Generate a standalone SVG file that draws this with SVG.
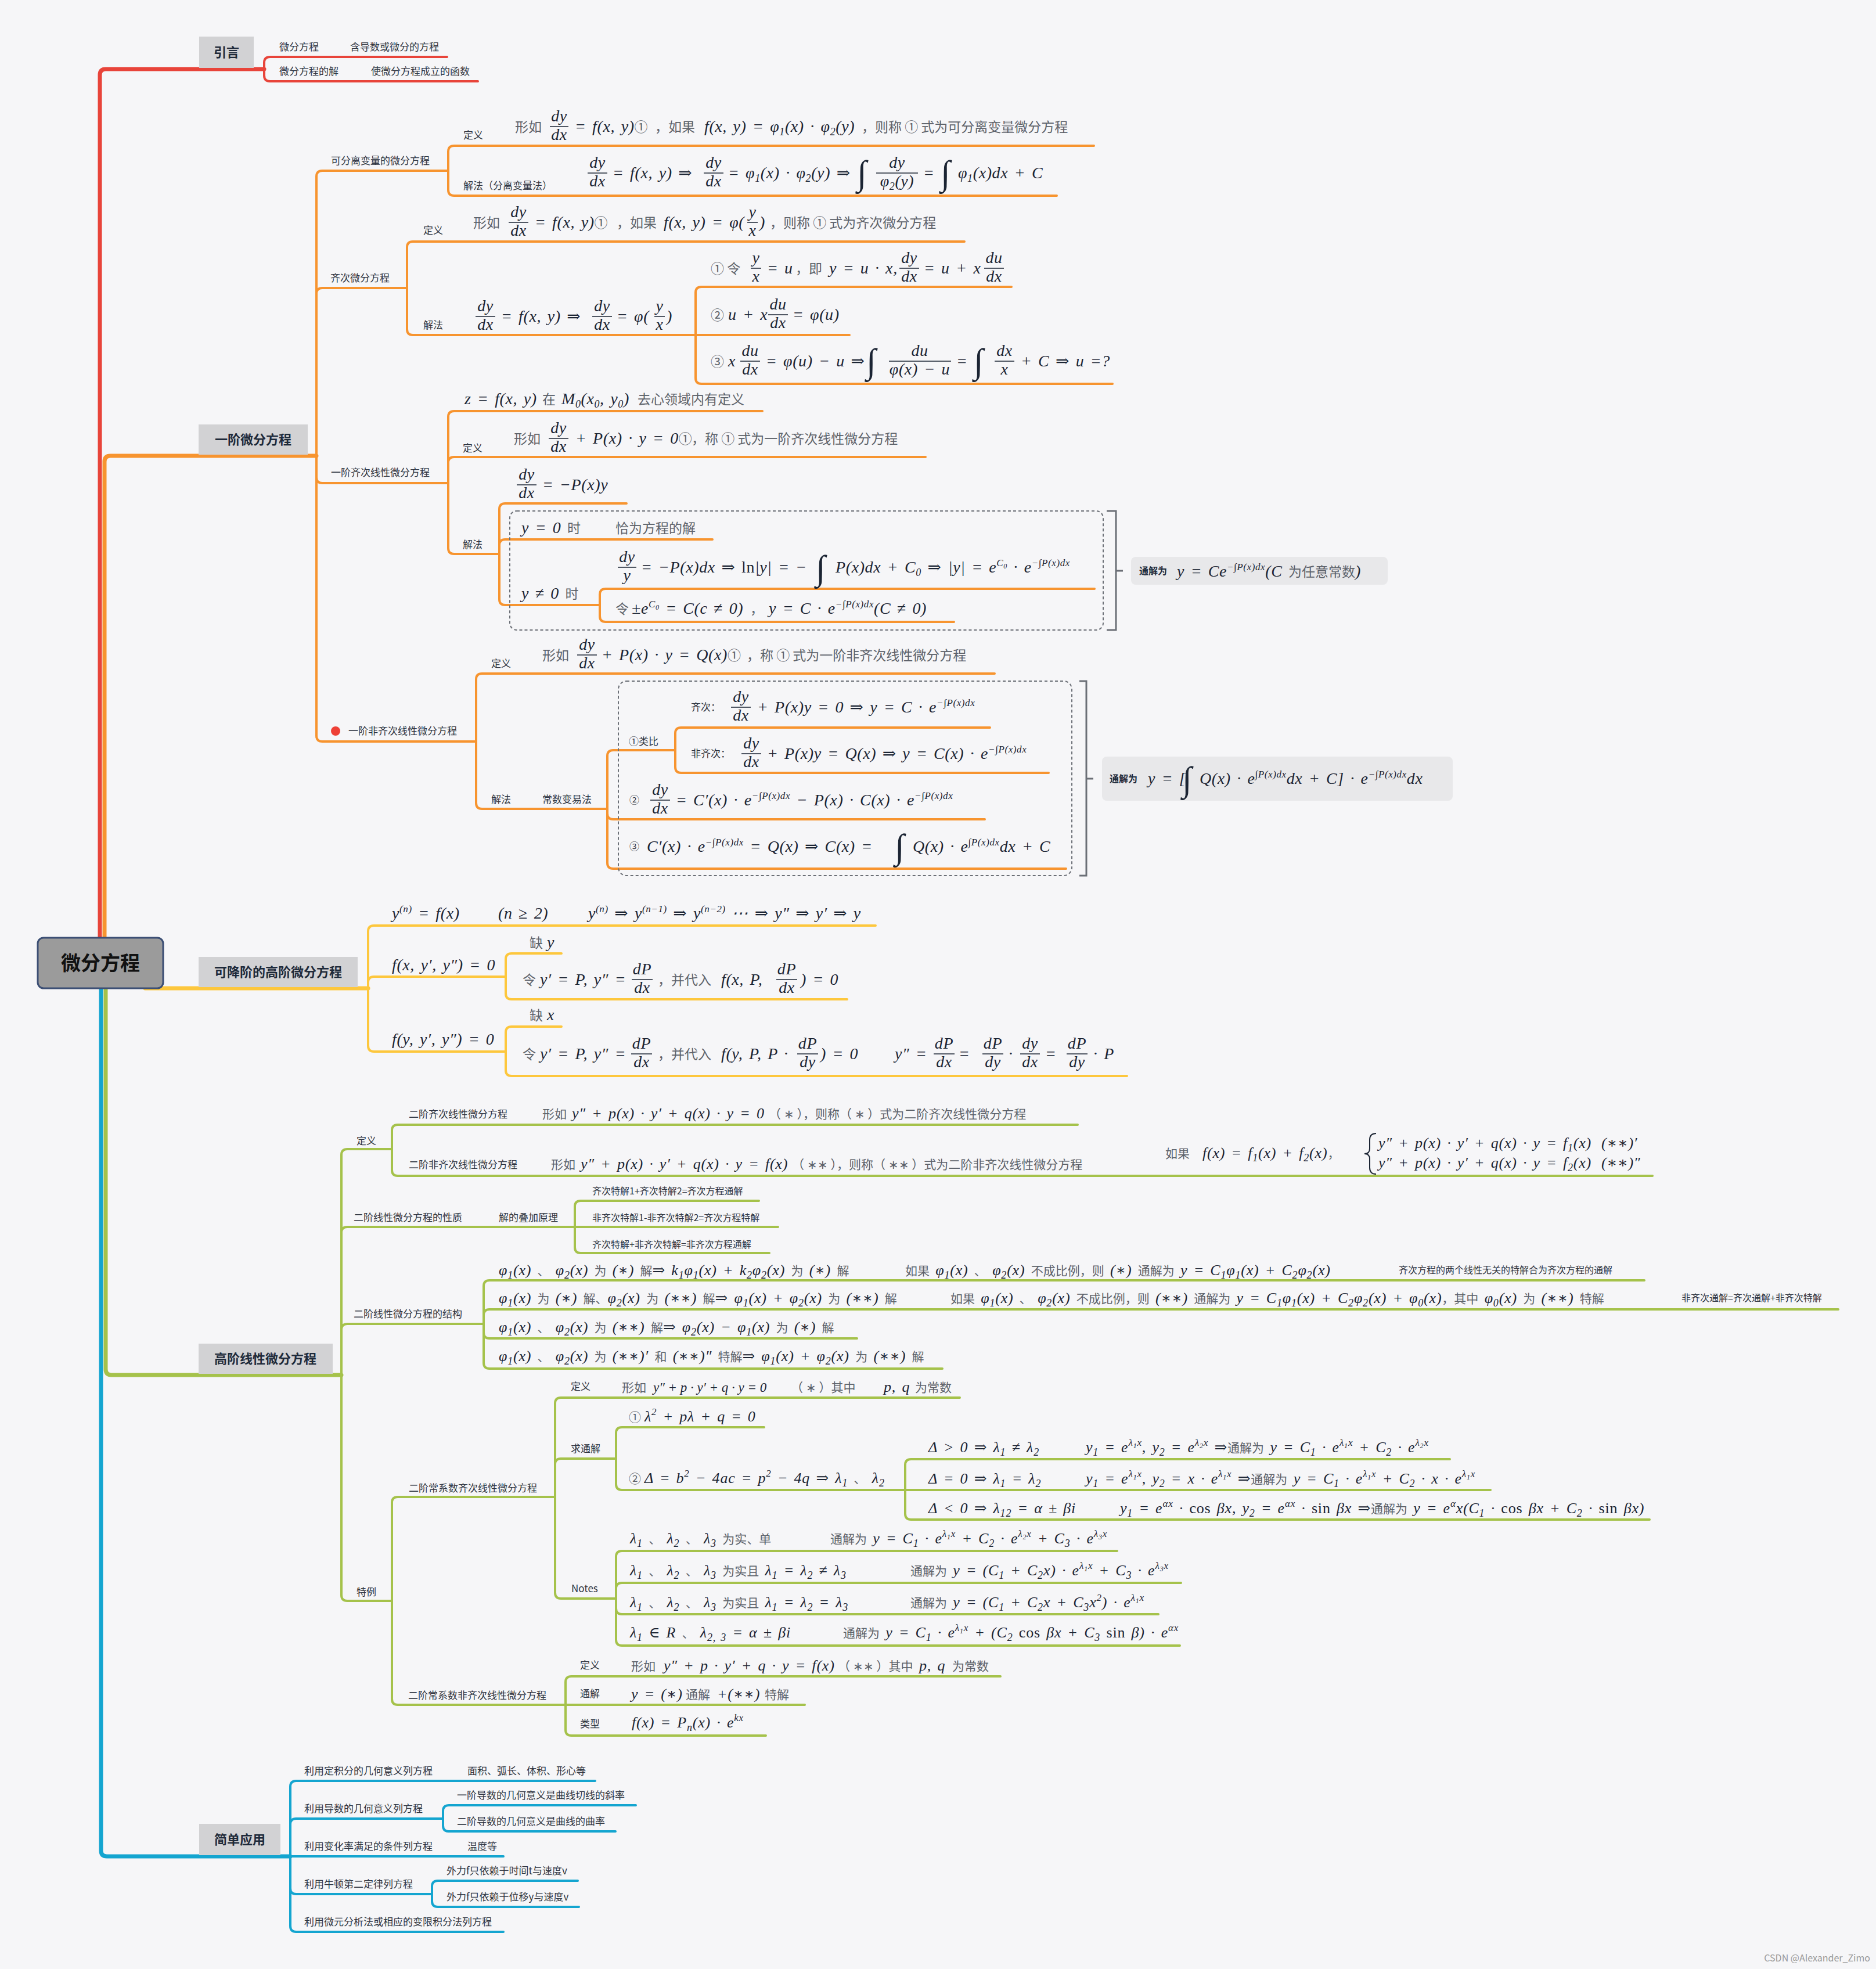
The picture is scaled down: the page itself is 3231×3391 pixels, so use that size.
<svg xmlns="http://www.w3.org/2000/svg" width="3231" height="3391" viewBox="0 0 3231 3391">
<style>
.m{font-family:"Liberation Serif","DejaVu Serif",serif;font-style:italic;font-size:28px;letter-spacing:0.6px;word-spacing:3px;fill:#1b2433}
.m2{font-family:"Liberation Serif","DejaVu Serif",serif;font-style:italic;font-size:26px;letter-spacing:0.8px;word-spacing:3px;fill:#1b2433}
.fr{text-anchor:middle}
.n{font-style:normal}
.c{font-family:"Noto Sans CJK SC","Noto Sans",sans-serif;font-style:normal;font-size:23px;letter-spacing:0;word-spacing:0;fill:#5d626a}
.c2{font-family:"Noto Sans CJK SC","Noto Sans",sans-serif;font-style:normal;font-size:21px;letter-spacing:0;word-spacing:0;fill:#5d626a}
.l{font-family:"Noto Sans CJK SC","Noto Sans",sans-serif;font-size:17px;fill:#2e3440}
.l2{font-family:"Noto Sans CJK SC","Noto Sans",sans-serif;font-size:16px;fill:#2e3440}
.s{font-size:18px;baseline-shift:-6px}
.p{font-size:17px;baseline-shift:11px}
.ps{font-size:12px;baseline-shift:-4px}
.i{font-family:"Liberation Serif","DejaVu Serif",serif;font-style:normal;font-size:60px;fill:#1b2433}
.fb{stroke:#1b2433;stroke-width:1.6;fill:none}
.k{fill:none;stroke-width:4;stroke-linecap:round;stroke-linejoin:round}
.t{fill:none;stroke-width:7;stroke-linecap:round;stroke-linejoin:round}
.rd{stroke:#e8443a}.or{stroke:#f7942f}.ye{stroke:#fdc73d}.gr{stroke:#a5c24b}.bl{stroke:#14a5d0}
.mt{fill:#d2d2d4}
.mtt{font-family:"Noto Sans CJK SC",sans-serif;font-weight:700;font-size:22px;fill:#1e2a3a;text-anchor:middle}
.sum{fill:#e8e8ea}
.sb{font-family:"Noto Sans CJK SC",sans-serif;font-weight:700;font-size:16px;fill:#1e2a3a}
.dash{fill:none;stroke:#6b6f76;stroke-width:2;stroke-dasharray:5 4}
.brk{fill:none;stroke:#6b6f76;stroke-width:3}
</style>
<rect width="3231" height="3391" fill="#f6f6f8"/>

<g id="connectors">
<path class="t rd" d="M172,1615 V129 Q172,119 182,119 H455"/>
<path class="k rd" d="M455,119 V108 Q455,98 465,98 H770 M455,119 V130 Q455,140 465,140 H823"/>
<path class="t or" d="M180,1615 V795 Q180,785 190,785 H545"/>
<path class="k or" d="M545,785 V304 Q545,294 555,294 H772 M545,785 V506 Q545,496 555,496 H701 M545,785 V822 Q545,832 555,832 H772 M545,785 V1267 Q545,1277 555,1277 H820
M772,294 V261 Q772,251 782,251 H1884 M772,294 V327 Q772,337 782,337 H1820
M701,496 V426 Q701,416 711,416 H1661 M701,496 V567 Q701,577 711,577 H1198
M1198,577 V504 Q1198,494 1208,494 H1742 M1198,577 H1463 M1198,577 V651 Q1198,661 1208,661 H1916
M772,832 V718 Q772,708 782,708 H1313 M772,832 V797 Q772,787 782,787 H1594 M772,832 V944 Q772,954 782,954 H860
M860,954 V877 Q860,867 870,867 H1079 M860,954 V939 Q860,929 870,929 H1227 M860,954 V1032 Q860,1042 870,1042 H1033
M1033,1042 V1024 Q1033,1014 1043,1014 H1885 M1033,1042 V1061 Q1033,1071 1043,1071 H1643
M820,1277 V1170 Q820,1160 830,1160 H1713 M820,1277 V1383 Q820,1393 830,1393 H1046
M1046,1393 V1302 Q1046,1292 1056,1292 H1163 M1046,1393 V1401 Q1046,1411 1056,1411 H1696 M1046,1393 V1486 Q1046,1496 1056,1496 H1836
M1163,1292 V1263 Q1163,1253 1173,1253 H1705 M1163,1292 V1321 Q1163,1331 1173,1331 H1806"/>
<path class="t ye" d="M250,1702 H634"/>
<path class="k ye" d="M634,1702 V1604 Q634,1594 644,1594 H1508 M634,1702 V1692 Q634,1682 644,1682 H871 M634,1702 V1801 Q634,1811 644,1811 H871
M871,1682 V1652 Q871,1642 881,1642 H967 M871,1682 V1711 Q871,1721 881,1721 H1459
M871,1811 V1778 Q871,1768 881,1768 H967 M871,1811 V1843 Q871,1853 881,1853 H1941"/>
<path class="t gr" d="M182,1702 V2358 Q182,2368 192,2368 H588"/>
<path class="k gr" d="M588,2368 V1989 Q588,1979 598,1979 H675 M588,2368 V2123 Q588,2113 598,2113 H990 M588,2368 V2290 Q588,2280 598,2280 H833 M588,2368 V2747 Q588,2757 598,2757 H675
M675,1979 V1947 Q675,1937 685,1937 H1856 M675,1979 V2015 Q675,2025 685,2025 H2846
M990,2113 V2078 Q990,2068 1000,2068 H1307 M990,2113 H1340 M990,2113 V2148 Q990,2158 1000,2158 H1325
M833,2280 V2215 Q833,2205 843,2205 H2832 M833,2280 V2265 Q833,2255 843,2255 H3166 M833,2280 V2295 Q833,2305 843,2305 H1476 M833,2280 V2347 Q833,2357 843,2357 H1623
M675,2757 V2588 Q675,2578 685,2578 H956 M675,2757 V2926 Q675,2936 685,2936 H974
M956,2578 V2417 Q956,2407 966,2407 H1653 M956,2578 V2522 Q956,2512 966,2512 H1061 M956,2578 V2743 Q956,2753 966,2753 H1061
M1061,2512 V2468 Q1061,2458 1071,2458 H1316 M1061,2512 V2556 Q1061,2566 1071,2566 H1559
M1559,2566 V2523 Q1559,2513 1569,2513 H2497 M1559,2566 H2567 M1559,2566 V2607 Q1559,2617 1569,2617 H2841
M1061,2753 V2681 Q1061,2671 1071,2671 H1924 M1061,2753 V2736 Q1061,2726 1071,2726 H2034 M1061,2753 V2770 Q1061,2780 1071,2780 H1995 M1061,2753 V2824 Q1061,2834 1071,2834 H2032
M974,2936 V2897 Q974,2887 984,2887 H1723 M974,2936 H1386 M974,2936 V2979 Q974,2989 984,2989 H1319"/>
<path class="t bl" d="M174,1702 V3187 Q174,3197 184,3197 H500"/>
<path class="k bl" d="M500,3197 V3077 Q500,3067 510,3067 H1025 M500,3197 V3142 Q500,3132 510,3132 H763 M500,3197 H867 M500,3197 V3252 Q500,3262 510,3262 H744 M500,3197 V3317 Q500,3327 510,3327 H867
M763,3132 V3119 Q763,3109 773,3109 H1095 M763,3132 V3144 Q763,3154 773,3154 H1060
M744,3262 V3249 Q744,3239 754,3239 H995 M744,3262 V3274 Q744,3284 754,3284 H997"/>
<path class="brk" d="M1906,880 H1922 V1085 H1906 M1922,983 H1934"/>
<path class="brk" d="M1859,1173 H1871 V1508 H1859 M1871,1341 H1883"/>
</g>

<g id="root">
<rect x="65" y="1615" width="216" height="87" rx="10" fill="#9b9b9b" stroke="#3c4f75" stroke-width="3"/>
<text x="173" y="1671" font-family="Noto Sans CJK SC,sans-serif" font-weight="700" font-size="34" fill="#111" text-anchor="middle">微分方程</text>
</g>

<g id="intro">
<rect class="mt" x="343" y="63" width="94" height="54"/>
<text class="mtt" x="390" y="98">引言</text>
<text class="l" x="481" y="87">微分方程</text><text class="l" x="603" y="87">含导数或微分的方程</text>
<text class="l" x="481" y="129">微分方程的解</text><text class="l" x="639" y="129">使微分方程成立的函数</text>
</g>

<g id="first-order">
<rect class="mt" x="342" y="731" width="188" height="52"/>
<text class="mtt" x="436" y="765">一阶微分方程</text>
<path class="fb" d="M947,218H979 M1012,298H1046 M1212,298H1246 M1509,298H1581 M876,383H910 M1287,383H1305 M819,545H853 M1020,545H1054 M1127,545H1145 M1293,462H1311 M1549,462H1583 M1695,462H1729 M1323,542H1357 M1275,622H1309 M1531,622H1638 M1713,622H1747 M945,755H979 M890,835H924 M1064,977H1096 M994,1128H1028 M1259,1218H1293 M1277,1298H1311 M1120,1378H1154"/>

<text class="l" x="570" y="283">可分离变量的微分方程</text>
<text class="l" x="798" y="239">定义</text>
<text class="m" y="227"><tspan class="c" x="887">形如</tspan></text>
<text class="m fr"><tspan x="963" y="209">dy</tspan><tspan x="963" y="241">dx</tspan></text>
<text class="m" y="227"><tspan x="990">= f(x, y)</tspan><tspan class="c">①</tspan><tspan class="c" x="1128">，如果</tspan><tspan x="1213">f(x, y) = φ<tspan class="s">1</tspan>(x) · φ<tspan class="s">2</tspan>(y)</tspan><tspan class="c" x="1484">，则称 ① 式为可分离变量微分方程</tspan></text>
<text class="l" x="798" y="326">解法（分离变量法）</text>
<text class="m fr"><tspan x="1029" y="289">dy</tspan><tspan x="1029" y="321">dx</tspan></text>
<text class="m" x="1055" y="307">= f(x, y) ⇒</text>
<text class="m fr"><tspan x="1229" y="289">dy</tspan><tspan x="1229" y="321">dx</tspan></text>
<text class="m" x="1254" y="307">= φ<tspan class="s">1</tspan>(x) · φ<tspan class="s">2</tspan>(y) ⇒</text>
<text class="i" x="1476" y="318">∫</text>
<text class="m fr"><tspan x="1545" y="289">dy</tspan><tspan x="1545" y="321">φ<tspan class="s">2</tspan>(y)</tspan></text>
<text class="m" x="1590" y="307">=</text>
<text class="i" x="1620" y="318">∫</text>
<text class="m" x="1650" y="307">φ<tspan class="s">1</tspan>(x)dx + C</text>

<text class="l" x="569" y="485">齐次微分方程</text>
<text class="l" x="729" y="403">定义</text>
<text class="m" y="392"><tspan class="c" x="815">形如</tspan></text>
<text class="m fr"><tspan x="893" y="374">dy</tspan><tspan x="893" y="406">dx</tspan></text>
<text class="m" y="392"><tspan x="921">= f(x, y)</tspan><tspan class="c">①</tspan><tspan class="c" x="1062">，如果</tspan><tspan x="1143">f(x, y) = φ(</tspan></text>
<text class="m fr"><tspan x="1296" y="374">y</tspan><tspan x="1296" y="406">x</tspan></text>
<text class="m" y="392"><tspan x="1308">)</tspan><tspan class="c" x="1326">，则称 ① 式为齐次微分方程</tspan></text>
<text class="l" x="729" y="566">解法</text>
<text class="m fr"><tspan x="836" y="536">dy</tspan><tspan x="836" y="568">dx</tspan></text>
<text class="m" x="863" y="554">= f(x, y) ⇒</text>
<text class="m fr"><tspan x="1037" y="536">dy</tspan><tspan x="1037" y="568">dx</tspan></text>
<text class="m" x="1062" y="554">= φ(</text>
<text class="m fr"><tspan x="1136" y="536">y</tspan><tspan x="1136" y="568">x</tspan></text>
<text class="m" x="1148" y="554">)</text>

<text class="m" y="471"><tspan class="c" x="1224">① 令</tspan></text>
<text class="m fr"><tspan x="1302" y="453">y</tspan><tspan x="1302" y="485">x</tspan></text>
<text class="m" y="471"><tspan x="1321">= u</tspan><tspan class="c" x="1370">，即</tspan><tspan x="1428">y = u · x,</tspan></text>
<text class="m fr"><tspan x="1566" y="453">dy</tspan><tspan x="1566" y="485">dx</tspan></text>
<text class="m" x="1591" y="471">= u + x</text>
<text class="m fr"><tspan x="1712" y="453">du</tspan><tspan x="1712" y="485">dx</tspan></text>

<text class="m" y="551"><tspan class="c" x="1224">②</tspan><tspan x="1254">u + x</tspan></text>
<text class="m fr"><tspan x="1340" y="533">du</tspan><tspan x="1340" y="565">dx</tspan></text>
<text class="m" x="1365" y="551">= φ(u)</text>

<text class="m" y="631"><tspan class="c" x="1224">③</tspan><tspan x="1254">x</tspan></text>
<text class="m fr"><tspan x="1292" y="613">du</tspan><tspan x="1292" y="645">dx</tspan></text>
<text class="m" x="1319" y="631">= φ(u) − u ⇒</text>
<text class="i" x="1492" y="642">∫</text>
<text class="m fr"><tspan x="1584" y="613">du</tspan><tspan x="1584" y="645">φ(x) − u</tspan></text>
<text class="m" x="1647" y="631">=</text>
<text class="i" x="1677" y="642">∫</text>
<text class="m fr"><tspan x="1730" y="613">dx</tspan><tspan x="1730" y="645">x</tspan></text>
<text class="m" x="1758" y="631">+ C ⇒ u =?</text>

<text class="l" x="570" y="820">一阶齐次线性微分方程</text>
<text class="m" y="696"><tspan x="800">z = f(x, y)</tspan><tspan class="c" x="934">在</tspan><tspan x="967">M<tspan class="s">0</tspan>(x<tspan class="s">0</tspan>, y<tspan class="s">0</tspan>)</tspan><tspan class="c" x="1098">去心领域内有定义</tspan></text>
<text class="l" x="797" y="778">定义</text>
<text class="m" y="764"><tspan class="c" x="885">形如</tspan></text>
<text class="m fr"><tspan x="962" y="746">dy</tspan><tspan x="962" y="778">dx</tspan></text>
<text class="m" y="764"><tspan x="991">+ P(x) · y = 0</tspan><tspan class="c">①</tspan><tspan class="c" x="1191">，称 ① 式为一阶齐次线性微分方程</tspan></text>
<text class="l" x="797" y="944">解法</text>
<text class="m fr"><tspan x="907" y="826">dy</tspan><tspan x="907" y="858">dx</tspan></text>
<text class="m" x="934" y="844">= −P(x)y</text>
<rect class="dash" x="878" y="880" width="1022" height="205" rx="12"/>
<text class="m" x="898" y="918">y = 0 <tspan class="c">时</tspan></text>
<text class="c" x="1060" y="918">恰为方程的解</text>
<text class="m" x="898" y="1031">y ≠ 0 <tspan class="c">时</tspan></text>
<text class="m fr"><tspan x="1080" y="968">dy</tspan><tspan x="1080" y="1000">y</tspan></text>
<text class="m" y="986"><tspan x="1104">= −P(x)dx ⇒ <tspan class="n">ln</tspan>|y| = −</tspan></text>
<text class="i" x="1405" y="998">∫</text>
<text class="m" y="986"><tspan x="1439">P(x)dx + C<tspan class="s">0</tspan> ⇒</tspan><tspan x="1633">|y| = e<tspan class="p">C<tspan class="ps">0</tspan></tspan> · e<tspan class="p">−∫P(x)dx</tspan></tspan></text>
<text class="m" y="1057"><tspan class="c" x="1060">令</tspan><tspan x="1088">±e<tspan class="p">C<tspan class="ps">0</tspan></tspan> = C(c ≠ 0)</tspan><tspan class="c" x="1292">，</tspan><tspan x="1324">y = C · e<tspan class="p">−∫P(x)dx</tspan>(C ≠ 0)</tspan></text>
<rect class="sum" x="1948" y="959" width="442" height="48" rx="8"/>
<text class="sb" x="1962" y="989">通解为</text>
<text class="m" x="2027" y="993">y = Ce<tspan class="p">−∫P(x)dx</tspan>(C <tspan class="c">为任意常数</tspan>)</text>

<circle cx="578" cy="1259" r="8" fill="#ee4036"/>
<text class="l" x="600" y="1265">一阶非齐次线性微分方程</text>
<text class="l" x="846" y="1149">定义</text>
<text class="m" y="1137"><tspan class="c" x="934">形如</tspan></text>
<text class="m fr"><tspan x="1011" y="1119">dy</tspan><tspan x="1011" y="1151">dx</tspan></text>
<text class="m" y="1137"><tspan x="1036">+ P(x) · y = Q(x)</tspan><tspan class="c">①</tspan><tspan class="c" x="1286">，称 ① 式为一阶非齐次线性微分方程</tspan></text>
<text class="l" x="846" y="1383">解法</text><text class="l" x="934" y="1383">常数变易法</text>
<rect class="dash" x="1065" y="1173" width="781" height="335" rx="14"/>
<text class="l" x="1083" y="1283">①类比</text>
<text class="l" x="1190" y="1224">齐次：</text>
<text class="m fr"><tspan x="1276" y="1209">dy</tspan><tspan x="1276" y="1241">dx</tspan></text>
<text class="m" x="1304" y="1227">+ P(x)y = 0 ⇒ y = C · e<tspan class="p">−∫P(x)dx</tspan></text>
<text class="l" x="1190" y="1304">非齐次：</text>
<text class="m fr"><tspan x="1294" y="1289">dy</tspan><tspan x="1294" y="1321">dx</tspan></text>
<text class="m" x="1321" y="1307">+ P(x)y = Q(x) ⇒ y = C(x) · e<tspan class="p">−∫P(x)dx</tspan></text>
<text class="l" x="1084" y="1384">②</text>
<text class="m fr"><tspan x="1137" y="1369">dy</tspan><tspan x="1137" y="1401">dx</tspan></text>
<text class="m" x="1164" y="1387">= C′(x) · e<tspan class="p">−∫P(x)dx</tspan> − P(x) · C(x) · e<tspan class="p">−∫P(x)dx</tspan></text>
<text class="l" x="1084" y="1464">③</text>
<text class="m" x="1114" y="1467">C′(x) · e<tspan class="p">−∫P(x)dx</tspan> = Q(x) ⇒ C(x) =</text>
<text class="i" x="1541" y="1478">∫</text>
<text class="m" x="1572" y="1467">Q(x) · e<tspan class="p">∫P(x)dx</tspan>dx + C</text>
<rect class="sum" x="1898" y="1303" width="604" height="76" rx="8"/>
<text class="sb" x="1911" y="1347">通解为</text>
<text class="m" x="1977" y="1350">y = [</text>
<text class="i" x="2036" y="1362">∫</text>
<text class="m" x="2066" y="1350">Q(x) · e<tspan class="p">∫P(x)dx</tspan>dx + C] · e<tspan class="p">−∫P(x)dx</tspan>dx</text>
</g>

<g id="reducible">
<rect class="mt" x="342" y="1648" width="274" height="52"/>
<text class="mtt" x="479" y="1682">可降阶的高阶微分方程</text>
<path class="fb" d="M1088,1687H1124 M1337,1687H1373 M1087,1815H1123 M1373,1815H1409 M1608,1815H1644 M1692,1815H1728 M1757,1815H1791 M1837,1815H1873"/>
<text class="m" y="1582"><tspan x="675">y<tspan class="p">(n)</tspan> = f(x)</tspan><tspan x="858">(n ≥ 2)</tspan><tspan x="1013">y<tspan class="p">(n)</tspan> ⇒ y<tspan class="p">(n−1)</tspan> ⇒ y<tspan class="p">(n−2)</tspan> ⋯ ⇒ y″ ⇒ y′ ⇒ y</tspan></text>
<text class="m" x="675" y="1671">f(x, y′, y″) = 0</text>
<text class="m" y="1632"><tspan class="c" x="912">缺</tspan><tspan x="942">y</tspan></text>
<text class="m" y="1696"><tspan class="c" x="900">令</tspan><tspan x="930">y′ = P, y″ =</tspan></text>
<text class="m fr"><tspan x="1106" y="1678">dP</tspan><tspan x="1106" y="1710">dx</tspan></text>
<text class="m" y="1696"><tspan class="c" x="1133">，并代入</tspan><tspan x="1242">f(x, P,</tspan></text>
<text class="m fr"><tspan x="1355" y="1678">dP</tspan><tspan x="1355" y="1710">dx</tspan></text>
<text class="m" x="1379" y="1696">) = 0</text>
<text class="m" x="675" y="1799">f(y, y′, y″) = 0</text>
<text class="m" y="1757"><tspan class="c" x="912">缺</tspan><tspan x="942">x</tspan></text>
<text class="m" y="1824"><tspan class="c" x="900">令</tspan><tspan x="930">y′ = P, y″ =</tspan></text>
<text class="m fr"><tspan x="1105" y="1806">dP</tspan><tspan x="1105" y="1838">dx</tspan></text>
<text class="m" y="1824"><tspan class="c" x="1133">，并代入</tspan><tspan x="1242">f(y, P, P ·</tspan></text>
<text class="m fr"><tspan x="1391" y="1806">dP</tspan><tspan x="1391" y="1838">dy</tspan></text>
<text class="m" y="1824"><tspan x="1413">) = 0</tspan><tspan x="1541">y″ =</tspan><tspan x="1651">=</tspan><tspan x="1737">·</tspan><tspan x="1800">=</tspan><tspan x="1883">· P</tspan></text>
<text class="m fr"><tspan x="1626" y="1806">dP</tspan><tspan x="1626" y="1838">dx</tspan></text>
<text class="m fr"><tspan x="1710" y="1806">dP</tspan><tspan x="1710" y="1838">dy</tspan></text>
<text class="m fr"><tspan x="1774" y="1806">dy</tspan><tspan x="1774" y="1838">dx</tspan></text>
<text class="m fr"><tspan x="1855" y="1806">dP</tspan><tspan x="1855" y="1838">dy</tspan></text>
</g>

<g id="higher-linear">
<rect class="mt" x="342" y="2314" width="231" height="52"/>
<text class="mtt" x="457" y="2348">高阶线性微分方程</text>
<text class="l" x="614" y="1971">定义</text>
<text class="l" x="704" y="1925">二阶齐次线性微分方程</text>
<text class="m2" y="1926"><tspan class="c2" x="934">形如</tspan><tspan x="985">y″ + p(x) · y′ + q(x) · y = 0</tspan><tspan class="c2" x="1324">（ ∗ ），则称（ ∗ ）式为二阶齐次线性微分方程</tspan></text>
<text class="l" x="704" y="2012">二阶非齐次线性微分方程</text>
<text class="m2" y="2013"><tspan class="c2" x="949">形如</tspan><tspan x="1000">y″ + p(x) · y′ + q(x) · y = f(x)</tspan><tspan class="c2" x="1364">（ ∗∗ ），则称（ ∗∗ ）式为二阶非齐次线性微分方程</tspan></text>
<text class="m2" y="1994"><tspan class="c2" x="2007">如果</tspan><tspan x="2071">f(x) = f<tspan class="s">1</tspan>(x) + f<tspan class="s">2</tspan>(x)</tspan><tspan class="c2">，</tspan></text>
<path d="M2370,1952 Q2359,1952 2359,1963 V1978 Q2359,1987 2350,1987 Q2359,1987 2359,1996 V2011 Q2359,2022 2370,2022" fill="none" stroke="#1b2433" stroke-width="2"/>
<text class="m2" y="1977"><tspan x="2374">y″ + p(x) · y′ + q(x) · y = f<tspan class="s">1</tspan>(x)</tspan><tspan x="2758">(∗∗)′</tspan></text>
<text class="m2" y="2011"><tspan x="2374">y″ + p(x) · y′ + q(x) · y = f<tspan class="s">2</tspan>(x)</tspan><tspan x="2758">(∗∗)″</tspan></text>

<text class="l" x="609" y="2103">二阶线性微分方程的性质</text>
<text class="l" x="859" y="2103">解的叠加原理</text>
<text class="l2" x="1020" y="2057">齐次特解1+齐次特解2=齐次方程通解</text>
<text class="l2" x="1020" y="2103">非齐次特解1-非齐次特解2=齐次方程特解</text>
<text class="l2" x="1020" y="2149">齐次特解+非齐次特解=非齐次方程通解</text>

<text class="l" x="609" y="2269">二阶线性微分方程的结构</text>
<text class="m2" y="2196"><tspan x="859">φ<tspan class="s">1</tspan>(x) <tspan class="c2">、</tspan> φ<tspan class="s">2</tspan>(x) <tspan class="c2">为</tspan> (∗) <tspan class="c2">解</tspan>⇒ k<tspan class="s">1</tspan>φ<tspan class="s">1</tspan>(x) + k<tspan class="s">2</tspan>φ<tspan class="s">2</tspan>(x) <tspan class="c2">为</tspan> (∗) <tspan class="c2">解</tspan></tspan><tspan x="1559"><tspan class="c2">如果</tspan> φ<tspan class="s">1</tspan>(x) <tspan class="c2">、</tspan> φ<tspan class="s">2</tspan>(x) <tspan class="c2">不成比例，则</tspan> (∗) <tspan class="c2">通解为</tspan> y = C<tspan class="s">1</tspan>φ<tspan class="s">1</tspan>(x) + C<tspan class="s">2</tspan>φ<tspan class="s">2</tspan>(x)</tspan></text>
<text class="l2" x="2409" y="2193">齐次方程的两个线性无关的特解合为齐次方程的通解</text>
<text class="m2" y="2244"><tspan x="859">φ<tspan class="s">1</tspan>(x) <tspan class="c2">为</tspan> (∗) <tspan class="c2">解、</tspan>φ<tspan class="s">2</tspan>(x) <tspan class="c2">为</tspan> (∗∗) <tspan class="c2">解</tspan>⇒ φ<tspan class="s">1</tspan>(x) + φ<tspan class="s">2</tspan>(x) <tspan class="c2">为</tspan> (∗∗) <tspan class="c2">解</tspan></tspan><tspan x="1637"><tspan class="c2">如果</tspan> φ<tspan class="s">1</tspan>(x) <tspan class="c2">、</tspan> φ<tspan class="s">2</tspan>(x) <tspan class="c2">不成比例，则</tspan> (∗∗) <tspan class="c2">通解为</tspan> y = C<tspan class="s">1</tspan>φ<tspan class="s">1</tspan>(x) + C<tspan class="s">2</tspan>φ<tspan class="s">2</tspan>(x) + φ<tspan class="s">0</tspan>(x)<tspan class="c2">，其中</tspan> φ<tspan class="s">0</tspan>(x) <tspan class="c2">为</tspan> (∗∗) <tspan class="c2">特解</tspan></tspan></text>
<text class="l2" x="2896" y="2241">非齐次通解=齐次通解+非齐次特解</text>
<text class="m2" x="859" y="2294">φ<tspan class="s">1</tspan>(x) <tspan class="c2">、</tspan> φ<tspan class="s">2</tspan>(x) <tspan class="c2">为</tspan> (∗∗) <tspan class="c2">解</tspan>⇒ φ<tspan class="s">2</tspan>(x) − φ<tspan class="s">1</tspan>(x) <tspan class="c2">为</tspan> (∗) <tspan class="c2">解</tspan></text>
<text class="m2" x="859" y="2344">φ<tspan class="s">1</tspan>(x) <tspan class="c2">、</tspan> φ<tspan class="s">2</tspan>(x) <tspan class="c2">为</tspan> (∗∗)′ <tspan class="c2">和</tspan> (∗∗)″ <tspan class="c2">特解</tspan>⇒ φ<tspan class="s">1</tspan>(x) + φ<tspan class="s">2</tspan>(x) <tspan class="c2">为</tspan> (∗∗) <tspan class="c2">解</tspan></text>

<text class="l" x="614" y="2748">特例</text>
<text class="l" x="704" y="2569">二阶常系数齐次线性微分方程</text>
<text class="l" x="983" y="2394">定义</text>
<text class="c2" x="1071" y="2397">形如</text>
<text class="m2" x="1125" y="2397" style="font-size:23px;letter-spacing:0;word-spacing:0">y″ + p · y′ + q · y = 0</text>
<text class="m2" y="2397"><tspan class="c2" x="1362">（ ∗ ）其中</tspan><tspan x="1522">p, q</tspan><tspan class="c2" x="1576">为常数</tspan></text>
<text class="l" x="983" y="2501">求通解</text>
<text class="m2" y="2448"><tspan class="c2" x="1083">①</tspan><tspan x="1110">λ<tspan class="p">2</tspan> + pλ + q = 0</tspan></text>
<text class="m2" y="2554"><tspan class="c2" x="1083">②</tspan><tspan x="1110">Δ = b<tspan class="p">2</tspan> − 4ac = p<tspan class="p">2</tspan> − 4q ⇒ λ<tspan class="s">1</tspan> <tspan class="c2">、</tspan> λ<tspan class="s">2</tspan></tspan></text>
<text class="m2" y="2501"><tspan x="1599">Δ &gt; 0 ⇒ λ<tspan class="s">1</tspan> ≠ λ<tspan class="s">2</tspan></tspan><tspan x="1870">y<tspan class="s">1</tspan> = e<tspan class="p">λ<tspan class="ps">1</tspan>x</tspan>, y<tspan class="s">2</tspan> = e<tspan class="p">λ<tspan class="ps">2</tspan>x</tspan> ⇒<tspan class="c2">通解为</tspan> y = C<tspan class="s">1</tspan> · e<tspan class="p">λ<tspan class="ps">1</tspan>x</tspan> + C<tspan class="s">2</tspan> · e<tspan class="p">λ<tspan class="ps">2</tspan>x</tspan></tspan></text>
<text class="m2" y="2555"><tspan x="1599">Δ = 0 ⇒ λ<tspan class="s">1</tspan> = λ<tspan class="s">2</tspan></tspan><tspan x="1870">y<tspan class="s">1</tspan> = e<tspan class="p">λ<tspan class="ps">1</tspan>x</tspan>, y<tspan class="s">2</tspan> = x · e<tspan class="p">λ<tspan class="ps">1</tspan>x</tspan> ⇒<tspan class="c2">通解为</tspan> y = C<tspan class="s">1</tspan> · e<tspan class="p">λ<tspan class="ps">1</tspan>x</tspan> + C<tspan class="s">2</tspan> · x · e<tspan class="p">λ<tspan class="ps">1</tspan>x</tspan></tspan></text>
<text class="m2" y="2606"><tspan x="1599">Δ &lt; 0 ⇒ λ<tspan class="s">12</tspan> = α ± βi</tspan><tspan x="1929">y<tspan class="s">1</tspan> = e<tspan class="p">αx</tspan> · <tspan class="n">cos</tspan> βx, y<tspan class="s">2</tspan> = e<tspan class="p">αx</tspan> · <tspan class="n">sin</tspan> βx ⇒<tspan class="c2">通解为</tspan> y = e<tspan class="p">α</tspan>x(C<tspan class="s">1</tspan> · <tspan class="n">cos</tspan> βx + C<tspan class="s">2</tspan> · <tspan class="n">sin</tspan> βx)</tspan></text>
<text class="l" x="984" y="2742">Notes</text>
<text class="m2" y="2658"><tspan x="1085">λ<tspan class="s">1</tspan> <tspan class="c2">、</tspan> λ<tspan class="s">2</tspan> <tspan class="c2">、</tspan> λ<tspan class="s">3</tspan> <tspan class="c2">为实、单</tspan></tspan><tspan x="1430"><tspan class="c2">通解为</tspan> y = C<tspan class="s">1</tspan> · e<tspan class="p">λ<tspan class="ps">1</tspan>x</tspan> + C<tspan class="s">2</tspan> · e<tspan class="p">λ<tspan class="ps">2</tspan>x</tspan> + C<tspan class="s">3</tspan> · e<tspan class="p">λ<tspan class="ps">3</tspan>x</tspan></tspan></text>
<text class="m2" y="2713"><tspan x="1085">λ<tspan class="s">1</tspan> <tspan class="c2">、</tspan> λ<tspan class="s">2</tspan> <tspan class="c2">、</tspan> λ<tspan class="s">3</tspan> <tspan class="c2">为实且</tspan> λ<tspan class="s">1</tspan> = λ<tspan class="s">2</tspan> ≠ λ<tspan class="s">3</tspan></tspan><tspan x="1568"><tspan class="c2">通解为</tspan> y = (C<tspan class="s">1</tspan> + C<tspan class="s">2</tspan>x) · e<tspan class="p">λ<tspan class="ps">1</tspan>x</tspan> + C<tspan class="s">3</tspan> · e<tspan class="p">λ<tspan class="ps">3</tspan>x</tspan></tspan></text>
<text class="m2" y="2768"><tspan x="1085">λ<tspan class="s">1</tspan> <tspan class="c2">、</tspan> λ<tspan class="s">2</tspan> <tspan class="c2">、</tspan> λ<tspan class="s">3</tspan> <tspan class="c2">为实且</tspan> λ<tspan class="s">1</tspan> = λ<tspan class="s">2</tspan> = λ<tspan class="s">3</tspan></tspan><tspan x="1568"><tspan class="c2">通解为</tspan> y = (C<tspan class="s">1</tspan> + C<tspan class="s">2</tspan>x + C<tspan class="s">3</tspan>x<tspan class="p">2</tspan>) · e<tspan class="p">λ<tspan class="ps">1</tspan>x</tspan></tspan></text>
<text class="m2" y="2820"><tspan x="1085">λ<tspan class="s">1</tspan> ∈ R <tspan class="c2">、</tspan> λ<tspan class="s">2, 3</tspan> = α ± βi</tspan><tspan x="1452"><tspan class="c2">通解为</tspan> y = C<tspan class="s">1</tspan> · e<tspan class="p">λ<tspan class="ps">1</tspan>x</tspan> + (C<tspan class="s">2</tspan> <tspan class="n">cos</tspan> βx + C<tspan class="s">3</tspan> <tspan class="n">sin</tspan> β) · e<tspan class="p">αx</tspan></tspan></text>

<text class="l" x="703" y="2926">二阶常系数非齐次线性微分方程</text>
<text class="l" x="999" y="2874">定义</text>
<text class="m2" y="2877"><tspan class="c2" x="1087">形如</tspan><tspan x="1143">y″ + p · y′ + q · y = f(x)</tspan><tspan class="c2" x="1443">（ ∗∗ ）其中</tspan><tspan x="1583">p, q</tspan><tspan class="c2" x="1640">为常数</tspan></text>
<text class="l" x="999" y="2923">通解</text>
<text class="m2" y="2926"><tspan x="1087">y = (∗)</tspan><tspan class="c2" x="1181">通解</tspan><tspan x="1235">+(∗∗)</tspan><tspan class="c2" x="1317">特解</tspan></text>
<text class="l" x="999" y="2975">类型</text>
<text class="m2" x="1088" y="2975">f(x) = P<tspan class="s">n</tspan>(x) · e<tspan class="p">kx</tspan></text>
</g>

<g id="applications">
<rect class="mt" x="343" y="3141" width="140" height="54"/>
<text class="mtt" x="413" y="3176">简单应用</text>
<text class="l" x="524" y="3056">利用定积分的几何意义列方程</text><text class="l" x="805" y="3056">面积、弧长、体积、形心等</text>
<text class="l" x="524" y="3121">利用导数的几何意义列方程</text>
<text class="l" x="787" y="3098">一阶导数的几何意义是曲线切线的斜率</text>
<text class="l" x="787" y="3143">二阶导数的几何意义是曲线的曲率</text>
<text class="l" x="524" y="3186">利用变化率满足的条件列方程</text><text class="l" x="805" y="3186">温度等</text>
<text class="l" x="524" y="3251">利用牛顿第二定律列方程</text>
<text class="l" x="769" y="3228">外力f只依赖于时间t与速度v</text>
<text class="l" x="769" y="3273">外力f只依赖于位移y与速度v</text>
<text class="l" x="524" y="3316">利用微元分析法或相应的变限积分法列方程</text>
</g>

<text x="3221" y="3378" font-family="Noto Sans CJK SC,sans-serif" font-size="16" fill="#999" text-anchor="end">CSDN @Alexander_Zimo</text>
</svg>
